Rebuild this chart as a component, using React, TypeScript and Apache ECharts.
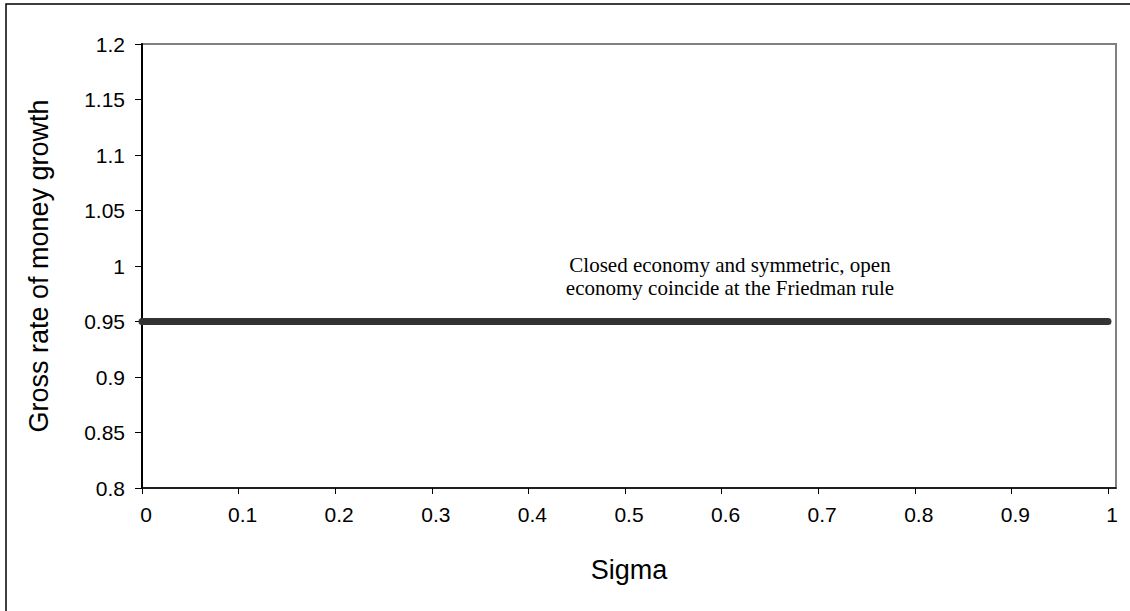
import React, { useEffect, useRef } from "react";
import * as echarts from "echarts";

const sigma = [0, 0.1, 0.2, 0.3, 0.4, 0.5, 0.6, 0.7, 0.8, 0.9, 1];
const growth = [0.95, 0.95, 0.95, 0.95, 0.95, 0.95, 0.95, 0.95, 0.95, 0.95, 0.95];
const annotationLines = [
  "Closed economy and symmetric, open",
  "economy coincide at the Friedman rule",
];
const xTitle = "Sigma";
const yTitle = "Gross rate of money growth";

export default function App() {
  const ref = useRef<HTMLDivElement>(null);
  useEffect(() => {
    if (!ref.current) return;
    const chart = echarts.init(ref.current, undefined, { renderer: "svg" });
    const font = "Liberation Sans, Arial, sans-serif";
    const serif = "21px 'Liberation Serif', 'Times New Roman', serif";
    chart.setOption({
      animation: false,
      backgroundColor: "#ffffff",
      grid: {
        left: 142,
        top: 44,
        right: 14,
        bottom: 123,
        show: true,
        borderColor: "#808080",
        borderWidth: 2,
        backgroundColor: "transparent",
      },
      xAxis: {
        type: "value",
        min: 0,
        max: 1.0083,
        interval: 0.1,
        name: xTitle,
        nameLocation: "middle",
        nameGap: 68,
        nameTextStyle: { fontFamily: font, fontSize: 27, color: "#000" },
        axisLine: { show: true, lineStyle: { color: "#000", width: 1.5 } },
        axisTick: { show: true, length: 6, lineStyle: { color: "#000", width: 1 } },
        axisLabel: {
          fontFamily: font,
          fontSize: 21,
          color: "#000",
          margin: 16,
          padding: [0, 0, 0, 8],
          showMaxLabel: false,
        },
        splitLine: { show: false },
      },
      yAxis: {
        type: "value",
        min: 0.8,
        max: 1.2,
        interval: 0.05,
        name: yTitle,
        nameLocation: "middle",
        nameGap: 90,
        nameTextStyle: { fontFamily: font, fontSize: 27, color: "#000" },
        axisLine: { show: true, lineStyle: { color: "#000", width: 2 } },
        axisTick: { show: true, length: 7, lineStyle: { color: "#000", width: 1 } },
        axisLabel: {
          fontFamily: font,
          fontSize: 21,
          color: "#000",
          margin: 17,
          formatter: (v: number) => String(parseFloat(v.toFixed(2))),
        },
        splitLine: { show: false },
      },
      series: [
        {
          type: "line",
          data: sigma.map((s, i) => [s, growth[i]]),
          showSymbol: false,
          symbol: "none",
          lineStyle: { color: "#333333", width: 7, cap: "round" },
          z: 3,
        },
      ],
      graphic: [
        {
          type: "rect",
          shape: { x: 6, y: 4, width: 1200, height: 700 },
          style: { fill: "none", stroke: "#000", lineWidth: 1.5 },
          silent: true,
        },
        {
          type: "text",
          x: 730,
          y: 265,
          style: {
            text: annotationLines[0],
            font: serif,
            fill: "#000",
            align: "center",
            verticalAlign: "middle",
          },
        },
        {
          type: "text",
          x: 730,
          y: 288,
          style: {
            text: annotationLines[1],
            font: serif,
            fill: "#000",
            align: "center",
            verticalAlign: "middle",
          },
        },
      ],
    });
    return () => chart.dispose();
  }, []);
  return (
    <div
      ref={ref}
      style={{ position: "fixed", left: 0, top: 0, width: 1130, height: 611 }}
    />
  );
}
